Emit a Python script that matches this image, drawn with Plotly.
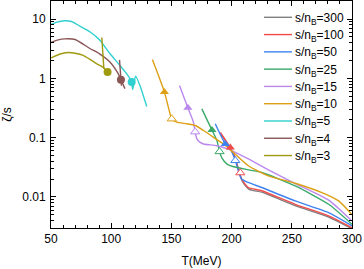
import plotly.graph_objects as go

# ---------------- data ----------------
T_300 = [191.5, 199.5, 202.8, 205.3, 208.8, 214.5, 225, 252.8, 280.6, 300]
Z_300 = [0.112, 0.063, 0.046, 0.031, 0.0185, 0.0134, 0.0120, 0.0071, 0.00455, 0.0029]

T_100 = [190.6, 198.9, 202.3, 204.8, 208.3, 213.9, 225, 252.8, 280.6, 300]
Z_100 = [0.122, 0.0678, 0.0496, 0.0335, 0.020, 0.0144, 0.0127, 0.0075, 0.00477, 0.0030]

T_50 = [186.4, 194.75, 199.75, 203.1, 205.6, 208.3, 213.9, 225, 252.8, 280.6, 300]
Z_50 = [0.171, 0.078, 0.060, 0.041, 0.0276, 0.020, 0.0175, 0.0144, 0.00855, 0.00542, 0.00324]

T_25 = [175.3, 183.7, 187.8, 190.0, 192.0, 196.2, 201.7, 225, 252.8, 280.6, 300]
Z_25 = [0.306, 0.134, 0.089, 0.058, 0.045, 0.0358, 0.0322, 0.0258, 0.0153, 0.0075, 0.00344]

T_15 = [156.7, 163.7, 168.3, 169.75, 171.2, 173.9, 176.7, 187.8, 197.25, 213.9, 230.6, 252.8, 280.6, 300]
Z_15 = [0.76, 0.318, 0.182, 0.125, 0.095, 0.083, 0.078, 0.073, 0.064, 0.0436, 0.0285, 0.0168, 0.0088, 0.0039]

T_10 = [134.2, 144.2, 148.9, 150.3, 154.5, 162.8, 169.75, 176.7, 185, 193.3, 202.8, 213.9,
        230.6, 252.8, 275, 288.9, 300]
Z_10 = [2.07, 0.586, 0.252, 0.207, 0.182, 0.171, 0.160, 0.132, 0.101, 0.078, 0.053, 0.0335,
        0.0227, 0.0170, 0.0118, 0.00855, 0.0050]

T_5 = [50, 55, 61, 67, 74, 82.25, 90.6, 98.9, 106, 112.8, 117.0, 117.8, 120.3, 124, 129.5]
Z_5 = [8.1, 8.9, 9.36, 9.1, 7.6, 6.1, 4.4, 2.62, 1.77, 1.2, 0.865, 0.645, 1.09, 0.74, 0.335]

T_4 = [50, 56, 61.4, 70, 82.25, 90, 98.9, 105.8, 108.1, 111.4]
Z_4 = [4.03, 4.45, 4.64, 4.53, 3.19, 2.62, 1.89, 1.2, 0.95, 0.67]
T_4_spike = [106.9, 108.5]
Z_4_spike = [2.05, 0.75]

T_3 = [50, 57, 64.2, 70, 76.7, 83, 87.8, 92.8, 97.0]
Z_3 = [2.21, 2.55, 2.73, 2.65, 2.45, 2.05, 1.77, 1.56, 1.28]
T_3_spike = [92.2, 93.9]
Z_3_spike = [4.9, 1.46]

# filled markers (one per series, None where absent)
FILLED_T = {"300": None, "100": 198.9, "50": 194.75, "25": 183.7, "15": 163.7,
            "10": 144.2, "5": 117.0, "4": 108.1, "3": 97.0}
FILLED_Z = {"300": None, "100": 0.0678, "50": 0.078, "25": 0.134, "15": 0.318,
            "10": 0.586, "5": 0.865, "4": 0.95, "3": 1.28}
# open triangle markers
OPEN_T = {"100": 207.25, "50": 203.1, "25": 190.0, "15": 169.75, "10": 150.3}
OPEN_Z = {"100": 0.0255, "50": 0.041, "25": 0.058, "15": 0.125, "10": 0.207}

labels = ["300", "100", "50", "25", "15", "10", "5", "4", "3"]
colors = {"300": "#7f7f7f", "100": "#f24a4a", "50": "#3f83f0", "25": "#3aaa6a",
          "15": "#bb88ee", "10": "#dda015", "5": "#30d0d0", "4": "#8a5555", "3": "#a09a10"}

series = {
    "300": (T_300, Z_300), "100": (T_100, Z_100), "50": (T_50, Z_50),
    "25": (T_25, Z_25), "15": (T_15, Z_15), "10": (T_10, Z_10),
    "5": (T_5, Z_5),
    "4": (T_4 + [None] + T_4_spike, Z_4 + [None] + Z_4_spike),
    "3": (T_3 + [None] + T_3_spike, Z_3 + [None] + Z_3_spike),
}
filled_symbol = {"100": "triangle-up", "50": "triangle-up", "25": "triangle-up",
                 "15": "triangle-up", "10": "triangle-up", "5": "circle", "4": "circle", "3": "circle"}

fig = go.Figure()
for k in labels:
    t, z = series[k]
    fig.add_trace(go.Scatter(x=t, y=z, mode="lines", name=f"s/n<sub>B</sub>={k}", showlegend=False,
                             line=dict(color=colors[k], width=1.4, shape="spline", smoothing=0.6),
                             connectgaps=False))
for k in labels:
    if k in OPEN_T:
        fig.add_trace(go.Scatter(x=[OPEN_T[k]], y=[OPEN_Z[k]], mode="markers", showlegend=False,
                                 marker=dict(symbol="triangle-up", size=8, color="white",
                                             line=dict(color=colors[k], width=1))))
    if FILLED_T[k] is not None:
        fig.add_trace(go.Scatter(x=[FILLED_T[k]], y=[FILLED_Z[k]], mode="markers", showlegend=False,
                                 marker=dict(symbol=filled_symbol[k], size=8, color=colors[k],
                                             line=dict(width=0))))

# ---------------- layout ----------------
W, H = 364, 269
ML, MR, MT, MB = 51, 12, 1, 41
PW, PH = W - ML - MR, H - MT - MB


def px_to_paper_x(px):
    return (px - ML) / PW


def px_to_paper_y(py):
    return (H - MB - py) / PH


# manual legend (line sample + text), positioned like the reference
leg_top, leg_step = 17.3, 17.28
shapes, annos = [], []
for i, k in enumerate(labels):
    yy = leg_top + i * leg_step
    shapes.append(dict(type="line", xref="paper", yref="paper",
                       x0=px_to_paper_x(264), x1=px_to_paper_x(292),
                       y0=px_to_paper_y(yy), y1=px_to_paper_y(yy),
                       line=dict(color=colors[k], width=1.4)))
    annos.append(dict(xref="paper", yref="paper", x=px_to_paper_x(294), y=px_to_paper_y(yy + 1.5),
                      xanchor="left", yanchor="middle", showarrow=False, borderpad=0,
                      text=f"s/n<sub>B</sub>={k}", font=dict(size=12, color="black")))

font = "Liberation Sans, Arial, sans-serif"
fig.update_layout(
    width=W, height=H,
    margin=dict(l=ML, r=MR, t=MT, b=MB, autoexpand=False),
    paper_bgcolor="white", plot_bgcolor="white",
    font=dict(family=font, size=12, color="black"),
    showlegend=False,
    shapes=shapes, annotations=annos,
)
fig.update_xaxes(
    range=[50, 300], tickmode="array", tickvals=[50, 100, 150, 200, 250, 300],
    ticks="inside", ticklen=5, tickcolor="black", showline=True, linecolor="black", linewidth=1,
    mirror="ticks", showgrid=False, zeroline=False, automargin=False,
    minor=dict(ticks="inside", ticklen=3, dtick=10, tick0=50, tickcolor="black", showgrid=False),
    title=dict(text="T(MeV)", standoff=11, font=dict(size=12)),
    ticklabelstandoff=0,
)
fig.update_yaxes(
    type="log", range=[-2.525, 1.305], tickmode="array", tickvals=[0.01, 0.1, 1, 10],
    ticktext=["0.01", "0.1", "1", "10"],
    ticks="inside", ticklen=5, tickcolor="black", showline=True, linecolor="black", linewidth=1,
    mirror="ticks", showgrid=False, zeroline=False, automargin=False,
    minor=dict(ticks="inside", ticklen=3, dtick="D1", tickcolor="black", showgrid=False),
    title=dict(text="ζ/s", standoff=8, font=dict(size=12)),
    ticklabelstandoff=2,
)
fig.write_html("out.html",
               config={"displayModeBar": False},
               post_script="document.body.style.margin='0';document.body.style.padding='0';")
